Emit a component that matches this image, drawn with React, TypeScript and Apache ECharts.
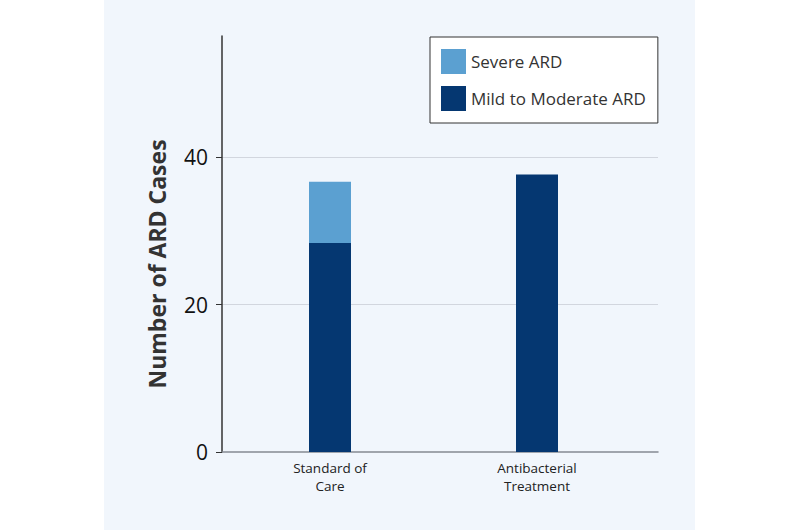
import React, { useEffect, useRef } from "react";
import * as echarts from "echarts";

const categories = ["Standard of\nCare", "Antibacterial\nTreatment"];
const mildToModerate = [28.4, 37.7];
const severe = [8.3, 0];
const yTicks = [0, 20, 40];
const seriesNames = ["Severe ARD", "Mild to Moderate ARD"];

export default function App() {
  const ref = useRef<HTMLDivElement>(null);
  useEffect(() => {
    document.body.style.margin = "0";
    const chart = echarts.init(ref.current!, null, { renderer: "svg" });
    const font = "'Open Sans', 'Noto Sans', sans-serif";
    const yMax = 56.5;
    chart.setOption({
      animation: false,
      backgroundColor: "#ffffff",
      textStyle: { fontFamily: font },
      graphic: [
        {
          type: "rect",
          z: -10,
          silent: true,
          shape: { x: 104, y: 0, width: 591, height: 530 },
          style: { fill: "#f1f6fc" },
        },
      ],
      grid: [
        { left: 222, right: 142, top: 36, bottom: 78 },
        { left: 226.5, right: 159.5, top: 36, bottom: 78 },
      ],
      legend: {
        data: seriesNames,
        orient: "vertical",
        left: 430,
        top: 37,
        itemWidth: 25,
        itemHeight: 25,
        itemGap: 12,
        padding: [12, 12, 12, 11],
        backgroundColor: "#ffffff",
        borderColor: "#333333",
        borderWidth: 1,
        icon: "rect",
        textStyle: { fontSize: 17, color: "#333333", fontFamily: font, fontWeight: 500 },
      },
      xAxis: [
        {
          gridIndex: 0,
          type: "value",
          min: 0,
          max: 1,
          splitLine: { show: false },
          axisTick: { show: false },
          axisLabel: { show: false },
          axisLine: { show: true, lineStyle: { color: "#858a92", width: 1.5 } },
        },
        {
          gridIndex: 1,
          type: "category",
          data: categories,
          axisLine: { show: false },
          axisTick: { show: false },
          axisLabel: {
            fontSize: 13.5,
            lineHeight: 18,
            color: "#222222",
            fontWeight: 500,
            margin: 7,
            fontFamily: font,
          },
        },
      ],
      yAxis: [
        {
          gridIndex: 0,
          type: "value",
          min: 0,
          max: yMax,
          interval: 20,
          name: "Number of ARD Cases",
          nameLocation: "middle",
          nameGap: 54,
          nameTextStyle: {
            fontSize: 23,
            fontWeight: "bold",
            color: "#333333",
            fontFamily: font,
            padding: [0, 40, 0, 0],
          },
          axisLine: { show: true, onZero: false, lineStyle: { color: "#333333", width: 1.5 } },
          axisTick: { show: true, customValues: yTicks, length: 6, lineStyle: { color: "#333333" } },
          axisLabel: {
            customValues: yTicks,
            fontSize: 21,
            color: "#111111",
            margin: 14,
            fontFamily: font,
          },
          splitLine: {
            show: true,
            lineStyle: { color: ["rgba(0,0,0,0)", "#d2d6de", "#d2d6de", "rgba(0,0,0,0)"], width: 1 },
          },
        },
        {
          gridIndex: 1,
          type: "value",
          min: 0,
          max: yMax,
          show: false,
          splitLine: { show: false },
        },
      ],
      series: [
        {
          name: seriesNames[1],
          type: "bar",
          stack: "total",
          xAxisIndex: 1,
          yAxisIndex: 1,
          barWidth: 42,
          itemStyle: { color: "#053771" },
          data: mildToModerate,
        },
        {
          name: seriesNames[0],
          type: "bar",
          stack: "total",
          xAxisIndex: 1,
          yAxisIndex: 1,
          barWidth: 42,
          itemStyle: { color: "#5ba0d1" },
          data: severe,
        },
      ],
    });
    return () => chart.dispose();
  }, []);
  return <div ref={ref} style={{ width: 800, height: 530 }} />;
}
